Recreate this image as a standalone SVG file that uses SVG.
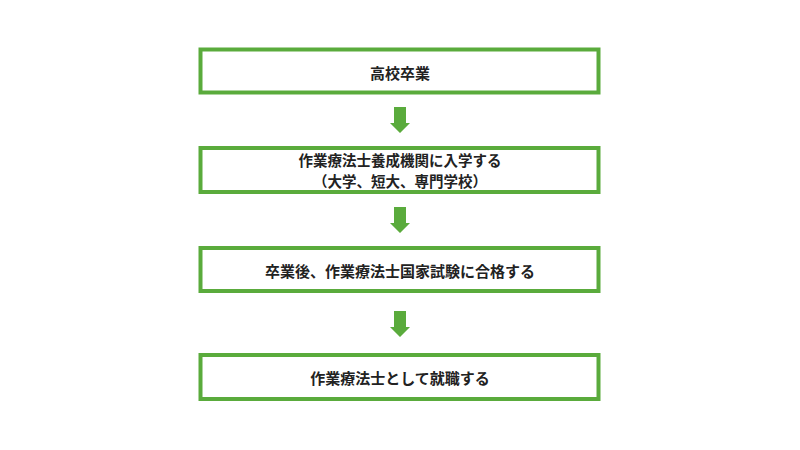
<svg xmlns="http://www.w3.org/2000/svg" width="800" height="450" viewBox="0 0 800 450">
<style>
.box{fill:#fff;stroke:#5aab3c;stroke-width:4}
.lbl{font-family:"Noto Sans CJK JP","Noto Sans",sans-serif;font-weight:bold;font-size:15px;fill:#222;text-anchor:middle;dominant-baseline:central}
.sm{font-size:14.5px}
.arr{fill:#5aab3c}
</style>
<defs>
<path id="arrow" d="M-6,0 H6 V16 H10 L0,26 L-10,16 H-6 Z"/>
</defs>
<rect width="800" height="450" fill="#fff"/>
<g id="connectors">
<use href="#arrow" class="arr" x="400" y="107"/>
<use href="#arrow" class="arr" x="400" y="207"/>
<use href="#arrow" class="arr" x="400" y="311"/>
</g>
<g id="node1">
<rect class="box" x="200.5" y="49.5" width="398" height="43"/>
<text class="lbl" x="400" y="72">高校卒業</text>
</g>
<g id="node2">
<rect class="box" x="200.5" y="148" width="398" height="44"/>
<text class="lbl sm" x="400" y="159.4">作業療法士養成機関に入学する</text>
<text class="lbl sm" x="400" y="180.6">（大学、短大、専門学校）</text>
</g>
<g id="node3">
<rect class="box" x="200.5" y="248" width="398" height="43"/>
<text class="lbl" x="400" y="270">卒業後、作業療法士国家試験に合格する</text>
</g>
<g id="node4">
<rect class="box" x="200.5" y="355" width="398" height="44"/>
<text class="lbl" x="400" y="377">作業療法士として就職する</text>
</g>
</svg>
